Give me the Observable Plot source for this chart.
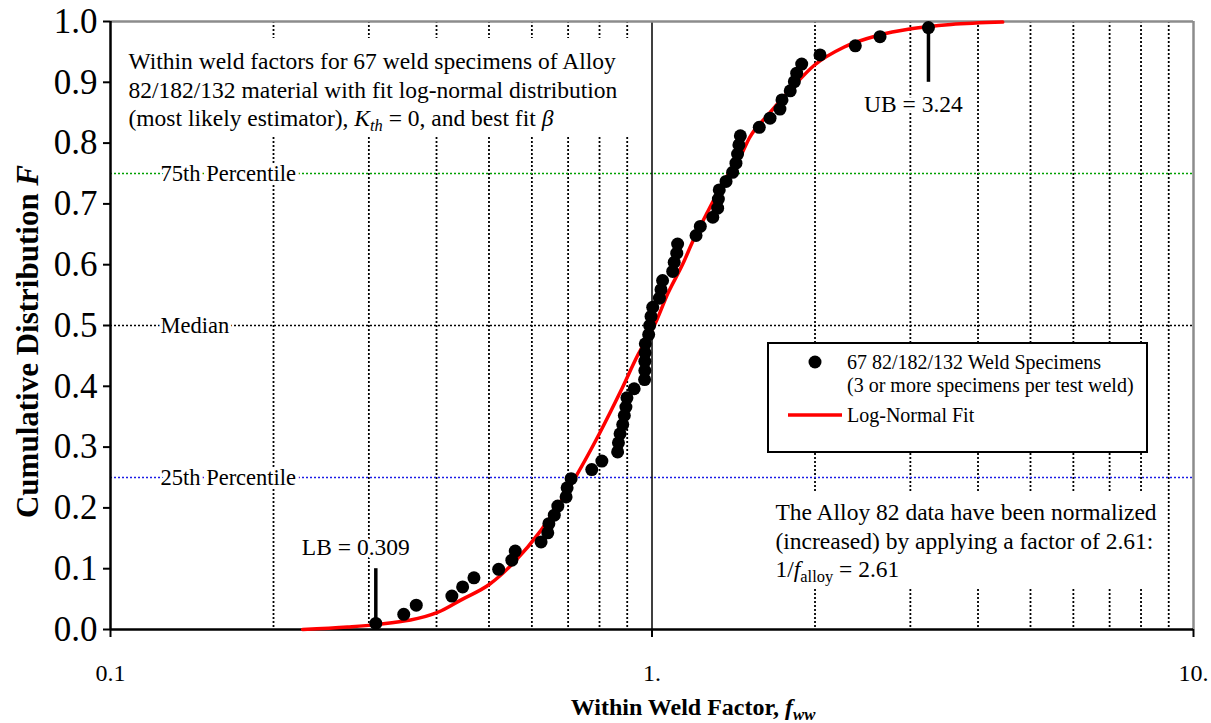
<!DOCTYPE html>
<html>
<head>
<meta charset="utf-8">
<script src="https://cdn.jsdelivr.net/npm/d3@7"></script>
<script src="https://cdn.jsdelivr.net/npm/@observablehq/plot@0.6"></script>
<style>
  body { margin: 0; background: #fff; }
  #chart svg { display: block; }
  #chart text { white-space: pre; }
</style>
</head>
<body>
<div id="chart"></div>
<script>
// Within-weld factor f_ww of the 67 Alloy 82/182/132 specimens, ascending
const weldFactor = [
  0.309, 0.348, 0.367, 0.427, 0.447, 0.469, 0.521, 0.551, 0.559, 0.624,
  0.642, 0.645, 0.660, 0.670, 0.694, 0.697, 0.709, 0.774, 0.808, 0.864,
  0.867, 0.873, 0.883, 0.889, 0.895, 0.899, 0.927, 0.969, 0.970, 0.970,
  0.971, 0.972, 0.986, 0.990, 0.996, 1.003, 1.032, 1.039, 1.046, 1.092,
  1.099, 1.111, 1.115, 1.206, 1.228, 1.295, 1.322, 1.326, 1.331, 1.370,
  1.409, 1.429, 1.439, 1.447, 1.456, 1.578, 1.652, 1.723, 1.738, 1.800,
  1.832, 1.850, 1.890, 2.043, 2.374, 2.637, 3.240
];
// Median-rank cumulative distribution of each specimen
const cumulativeF = [
  0.010, 0.025, 0.040, 0.055, 0.070, 0.085, 0.099, 0.114, 0.129, 0.144,
  0.159, 0.174, 0.188, 0.203, 0.218, 0.233, 0.248, 0.263, 0.277, 0.292,
  0.307, 0.322, 0.337, 0.352, 0.366, 0.381, 0.396, 0.411, 0.426, 0.441,
  0.455, 0.470, 0.485, 0.500, 0.515, 0.530, 0.545, 0.559, 0.574, 0.589,
  0.604, 0.619, 0.634, 0.648, 0.663, 0.678, 0.693, 0.708, 0.723, 0.737,
  0.752, 0.767, 0.782, 0.797, 0.812, 0.826, 0.841, 0.856, 0.871, 0.886,
  0.901, 0.915, 0.930, 0.945, 0.960, 0.975, 0.990
];
// Log-normal fit curve
const fitFactor = [
  0.2264, 0.274, 0.309, 0.4018, 0.447, 0.5005, 0.5568, 0.6237, 0.7237, 0.7994,
  0.8765, 0.941, 1.0171, 1.069, 1.1397, 1.189, 1.267, 1.370, 1.471, 1.512,
  1.636, 1.806, 1.994, 2.265, 2.611, 3.008, 3.566, 4.443
];
const fitF = [
  0.000, 0.004, 0.008, 0.028, 0.050, 0.074, 0.111, 0.163, 0.252, 0.322,
  0.393, 0.451, 0.506, 0.552, 0.601, 0.638, 0.687, 0.743, 0.786, 0.808,
  0.846, 0.889, 0.928, 0.958, 0.977, 0.988, 0.995, 0.999
];

// Axes
const xTicks = [0.1, 1, 10];
const xTickLabels = ["0.1", "1.", "10."];
const yTicks = [0, 0.1, 0.2, 0.3, 0.4, 0.5, 0.6, 0.7, 0.8, 0.9, 1.0];
const minorFactors = [0.2, 0.3, 0.4, 0.5, 0.6, 0.7, 0.8, 0.9, 2, 3, 4, 5, 6, 7, 8, 9];

// Reference percentiles
const percentiles = [0.25, 0.5, 0.75];
const percentileLabels = ["25th Percentile", "Median", "75th Percentile"];
const percentileColors = ["#1c1ce6", "#000000", "#00a000"];

// Bounds of the data set
const lowerBound = 0.309, lowerBoundF = 0.010;
const upperBound = 3.24, upperBoundF = 0.990;

const noteLines = [
  "Within weld factors for 67 weld specimens of Alloy",
  "82/182/132 material with fit log-normal distribution",
  "(most likely estimator), <i>K</i><isub>th</isub> = 0, and best fit <i>β</i>"
];
const normalizationLines = [
  "The Alloy 82 data have been normalized",
  "(increased) by applying a factor of 2.61:",
  "1/<i>f</i><sub>alloy</sub> = 2.61"
];
const legendLabels = ["67 82/182/132 Weld Specimens", "(3 or more specimens per test weld)", "Log-Normal Fit"];

const specimens = weldFactor.map((f, i) => ({f, F: cumulativeF[i]}));
const fit = fitFactor.map((f, i) => ({f, F: fitF[i]}));

const serif = "'Liberation Serif', 'Times New Roman', Times, serif";
const svgNS = "http://www.w3.org/2000/svg";

function el(tag, attrs, text) {
  const e = document.createElementNS(svgNS, tag);
  for (const k in attrs) e.setAttribute(k, attrs[k]);
  if (text != null) e.textContent = text;
  return e;
}

// Opaque panel behind a block of annotation text
const panel = (x, y, w, h) => () => el("rect", {x, y, width: w, height: h, fill: "#fff"});

// Boxed legend inside the plot area
const legend = () => {
  const g = el("g", {"font-family": serif, "font-size": 20, "text-anchor": "start", fill: "#000"});
  g.appendChild(el("rect", {x: 768, y: 343, width: 379, height: 109, fill: "#fff", stroke: "#000", "stroke-width": 2}));
  g.appendChild(el("circle", {cx: 815, cy: 362, r: 6.5, fill: "#000"}));
  g.appendChild(el("text", {x: 847, y: 363, dy: "0.32em"}, legendLabels[0]));
  g.appendChild(el("text", {x: 847, y: 386, dy: "0.32em"}, legendLabels[1]));
  g.appendChild(el("line", {x1: 788, x2: 842, y1: 415, y2: 415, stroke: "#ff0000", "stroke-width": 3.5}));
  g.appendChild(el("text", {x: 847, y: 416, dy: "0.32em"}, legendLabels[2]));
  return g;
};

const textLines = (lines, dx, dy0, step, fontSize) =>
  lines.map((line, i) => Plot.text([line], {
    frameAnchor: "top-left", dx, dy: dy0 + i * step,
    textAnchor: "start", lineAnchor: "middle", fontSize, fill: "#000"
  }));

const halo = {stroke: "#fff", strokeWidth: 7, paintOrder: "stroke", fill: "#000"};

const plot = Plot.plot({
  width: 1211,
  height: 723,
  marginLeft: 110,
  marginRight: 18,
  marginTop: 21,
  marginBottom: 94,
  style: {fontFamily: serif, background: "#fff", color: "#000", overflow: "visible"},
  x: {type: "log", domain: [0.1, 10]},
  y: {domain: [0, 1]},
  marks: [
    // dotted minor gridlines and reference percentiles
    Plot.ruleX(minorFactors, {stroke: "#000", strokeWidth: 1.8, strokeDasharray: "2,2"}),
    ...percentiles.map((p, i) => Plot.ruleY([p], {stroke: percentileColors[i], strokeWidth: 1.7, strokeDasharray: "2,2"})),
    Plot.ruleX([1], {stroke: "#000", strokeWidth: 1.5}),

    panel(118, 38, 524, 98),
    panel(768, 493, 397, 95),
    legend,

    // frame
    Plot.ruleY([1], {stroke: "#8c8c8c", strokeWidth: 2.5}),
    Plot.ruleX([10], {stroke: "#8c8c8c", strokeWidth: 2.5}),
    Plot.ruleX([0.1], {stroke: "#000", strokeWidth: 2.5}),
    Plot.ruleY([0], {stroke: "#000", strokeWidth: 2.5}),

    Plot.axisX(xTicks, {
      tickFormat: d => xTickLabels[xTicks.indexOf(d)],
      tickSize: 8, tickPadding: 26, fontSize: 24, strokeWidth: 2, label: null
    }),
    Plot.axisY(yTicks, {
      tickFormat: d3.format(".1f"),
      tickSize: 7, tickPadding: 6, fontSize: 35, strokeWidth: 2, label: null
    }),

    // log-normal fit and specimens
    Plot.line(fit, {x: "f", y: "F", stroke: "#ff0000", strokeWidth: 3.5, curve: "monotone-x"}),
    Plot.dot(specimens, {x: "f", y: "F", r: 6.5, fill: "#000"}),

    // lower and upper bounds
    Plot.ruleX([lowerBound], {y1: lowerBoundF, y2: 0.10, stroke: "#000", strokeWidth: 3.5}),
    Plot.text([lowerBound], {x: d => d, y: 0.10, dx: -20, dy: -21, text: d => `LB = ${d}`, fontSize: 23.5, ...halo}),
    Plot.ruleX([upperBound], {y1: upperBoundF, y2: 0.90, stroke: "#000", strokeWidth: 3.5}),
    Plot.text([upperBound], {x: d => d, y: 0.90, dx: -15, dy: 22, text: d => `UB = ${d}`, fontSize: 23.5, ...halo}),

    Plot.text(percentiles, {
      y: d => d, text: (d, i) => percentileLabels[i], frameAnchor: "left", dx: 50,
      textAnchor: "start", fontSize: 22.5, ...halo
    }),

    ...textLines(noteLines, 18, 40, 28.5, 23.5),
    ...textLines(normalizationLines, 665, 491, 28.5, 23.5),

    // axis titles
    Plot.text(["Cumulative Distribution <i>F</i>"], {
      frameAnchor: "left", dx: -82, dy: 16, rotate: -90, textAnchor: "middle", lineAnchor: "middle",
      fontSize: 31, fontWeight: "bold", fill: "#000"
    }),
    Plot.text(["Within Weld Factor, <i>f</i><isub>ww</isub>"], {
      frameAnchor: "bottom", dx: 41, dy: 78, textAnchor: "middle", lineAnchor: "middle",
      fontSize: 24, fontWeight: "bold", fill: "#000"
    })
  ]
});

// Turn the small inline markup (<i>, <sub>, <isub>) into styled tspans
function richify(root) {
  root.querySelectorAll("text").forEach(t => {
    const s = t.textContent;
    if (!/<(i|sub|isub)>/.test(s)) return;
    t.textContent = "";
    const re = /<(i|sub|isub)>(.*?)<\/\1>|([^<]+)/g;
    let m, lowered = false;
    while ((m = re.exec(s))) {
      const tag = m[1];
      const ts = el("tspan", {}, tag ? m[2] : m[3]);
      if (tag === "i" || tag === "isub") ts.setAttribute("font-style", "italic");
      if (tag === "sub" || tag === "isub") {
        ts.style.fontSize = "0.7em";
        if (!lowered) ts.setAttribute("dy", "0.28em");
        lowered = true;
      } else if (lowered) {
        ts.setAttribute("dy", "-0.196em");
        lowered = false;
      }
      t.appendChild(ts);
    }
  });
}
richify(plot);

document.getElementById("chart").appendChild(plot);
</script>
</body>
</html>
